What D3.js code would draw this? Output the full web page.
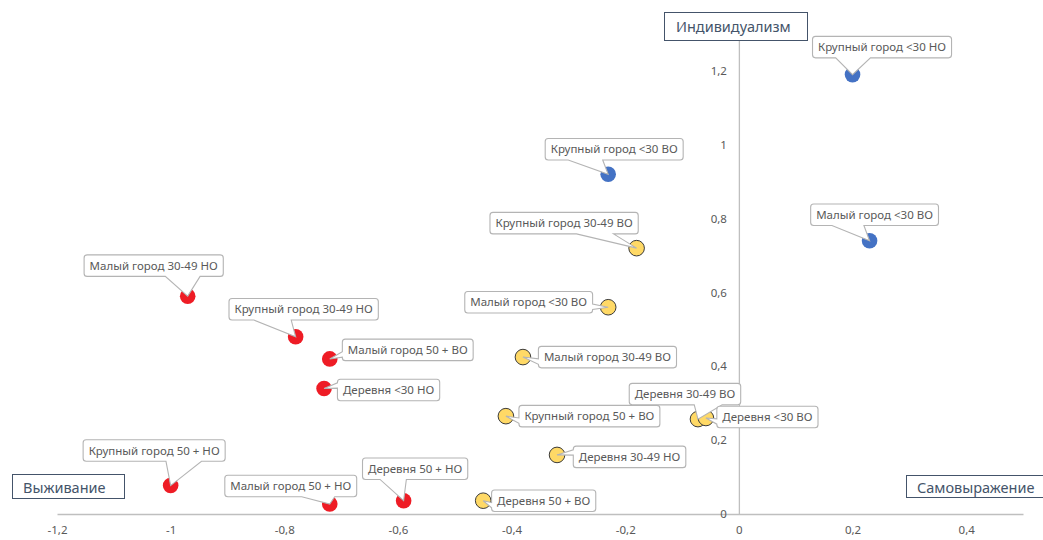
<!DOCTYPE html>
<html><head><meta charset="utf-8">
<script src="https://cdn.jsdelivr.net/npm/d3@7"></script>
<style>
body{margin:0;background:#fff;}
svg{display:block;font-family:"Noto Sans",sans-serif;}
</style>
</head><body>
<svg id="chart" width="1043" height="540"></svg>
<script>
// ---- data ----
const blueNames = ["Крупный город <30 НО", "Крупный город <30 ВО", "Малый город <30 ВО"];
const blueX = [0.20, -0.23, 0.23];
const blueY = [1.19, 0.92, 0.74];

const yellowNames = ["Крупный город 30-49 ВО", "Малый город <30 ВО", "Малый город 30-49 ВО",
  "Крупный город 50 + ВО", "Деревня 30-49 ВО", "Деревня <30 ВО", "Деревня 30-49 НО", "Деревня 50 + ВО"];
const yellowX = [-0.18, -0.23, -0.38, -0.41, -0.072, -0.058, -0.32, -0.45];
const yellowY = [0.72, 0.56, 0.425, 0.265, 0.257, 0.26, 0.16, 0.036];

const redNames = ["Малый город 30-49 НО", "Крупный город 30-49 НО", "Малый город 50 + ВО",
  "Деревня <30 НО", "Крупный город 50 + НО", "Малый город 50 + НО", "Деревня 50 + НО"];
const redX = [-0.97, -0.78, -0.72, -0.73, -1.00, -0.72, -0.59];
const redY = [0.59, 0.48, 0.42, 0.34, 0.077, 0.027, 0.036];

const xTicks = [-1.2, -1, -0.8, -0.6, -0.4, -0.2, 0, 0.2, 0.4];
const yTicks = [0, 0.2, 0.4, 0.6, 0.8, 1, 1.2];
const axisTitleTop = "Индивидуализм";
const axisTitleLeft = "Выживание";
const axisTitleRight = "Самовыражение";

// ---- layout (label box centre offsets from the point, in px) ----
const blueLabelOffsets = [[29.5, -27.5], [6, -25], [5, -26]];
const yellowLabelOffsets = [[-72.5, -25], [-79.5, -5], [84.5, 0], [83.5, 0], [-13, -25], [61.5, -1], [72.5, 2], [60.5, 0]];
const redLabelOffsets = [[-34, -30.5], [8, -27.5], [78, -9], [64.5, 1.5], [-16.5, -35], [-39, -18], [11.5, -32]];

const series = [
  {names: blueNames, xs: blueX, ys: blueY, offs: blueLabelOffsets, fill: "#4472C4", stroke: "none"},
  {names: yellowNames, xs: yellowX, ys: yellowY, offs: yellowLabelOffsets, fill: "#FFD966", stroke: "#3a3a3a"},
  {names: redNames, xs: redX, ys: redY, offs: redLabelOffsets, fill: "#EE1C25", stroke: "none"}
];

const svg = d3.select("#chart");
const x = d3.scaleLinear().domain([-1.2, 0.5]).range([57, 1023]);
const y = d3.scaleLinear().domain([0, 1.3]).range([514, 34]);
const fmt = d => String(d).replace(".", ",");

const gray = "#595959";
const axisColor = "#bfbfbf";

// x axis
const xa = svg.append("g").attr("transform", `translate(0,${y(0)})`)
  .call(d3.axisBottom(x).tickValues(xTicks).tickFormat(fmt).tickSize(0).tickPadding(12));
xa.select(".domain").attr("stroke", axisColor).attr("stroke-width", 1.3);
xa.selectAll("text").attr("fill", gray).style("font-size", "11.5px").style("font-family", "'Noto Sans',sans-serif");

// y axis
const ya = svg.append("g").attr("transform", `translate(${x(0)},0)`)
  .call(d3.axisLeft(y).tickValues(yTicks).tickFormat(fmt).tickSize(0).tickPadding(12));
ya.select(".domain").attr("stroke", axisColor).attr("stroke-width", 1.3);
ya.selectAll("text").attr("fill", gray).style("font-size", "11.5px").style("font-family", "'Noto Sans',sans-serif");

// markers
series.forEach(s => {
  svg.append("g").selectAll("circle").data(s.xs.map((v, i) => [v, s.ys[i]])).join("circle")
    .attr("cx", d => x(d[0])).attr("cy", d => y(d[1])).attr("r", 7.8)
    .attr("fill", s.fill).attr("stroke", s.stroke).attr("stroke-width", 1);
});

// callout path
function calloutPath(cx, cy, w, h, tx, ty) {
  const x0 = cx - w / 2, y0 = cy - h / 2, x1 = cx + w / 2, y1 = cy + h / 2, r = 3;
  const dxn = (tx - cx) / w, dyn = (ty - cy) / h;
  const inside = Math.abs(dxn) <= 0.5 && Math.abs(dyn) <= 0.5;
  const horiz = Math.abs(dxn) > Math.abs(dyn);
  const ax = dxn < 0 ? [x0 + w / 6, x0 + 5 * w / 12] : [x0 + 7 * w / 12, x0 + 5 * w / 6];
  const by = dyn < 0 ? [y0 + h / 6, y0 + 5 * h / 12] : [y0 + 7 * h / 12, y0 + 5 * h / 6];
  let p = `M${x0 + r},${y0}`;
  if (!inside && !horiz && dyn < 0) p += `L${ax[0]},${y0}L${tx},${ty}L${ax[1]},${y0}`;
  p += `L${x1 - r},${y0}Q${x1},${y0} ${x1},${y0 + r}`;
  if (!inside && horiz && dxn > 0) p += `L${x1},${by[0]}L${tx},${ty}L${x1},${by[1]}`;
  p += `L${x1},${y1 - r}Q${x1},${y1} ${x1 - r},${y1}`;
  if (!inside && !horiz && dyn > 0) p += `L${ax[1]},${y1}L${tx},${ty}L${ax[0]},${y1}`;
  p += `L${x0 + r},${y1}Q${x0},${y1} ${x0},${y1 - r}`;
  if (!inside && horiz && dxn < 0) p += `L${x0},${by[1]}L${tx},${ty}L${x0},${by[0]}`;
  p += `L${x0},${y0 + r}Q${x0},${y0} ${x0 + r},${y0}Z`;
  return p;
}

// labels
const lg = svg.append("g");
series.forEach(s => {
  s.names.forEach((name, i) => {
    const px = x(s.xs[i]), py = y(s.ys[i]);
    const cx = px + s.offs[i][0], cy = py + s.offs[i][1];
    const g = lg.append("g");
    const path = g.append("path");
    const t = g.append("text").attr("x", cx).attr("y", cy).attr("dy", "0.35em")
      .attr("text-anchor", "middle").attr("fill", gray).style("font-size", "11.5px").text(name);
    const w = t.node().getComputedTextLength() + 11, h = 21.5;
    path.attr("d", calloutPath(cx, cy, w, h, px, py)).attr("fill", "#fff")
      .attr("stroke", "#b4b4b4").attr("stroke-width", 1.1);
  });
});

// axis title boxes
const titleColor = "#44546A";
function titleBox(x0, y0, w, h, tx, ty, text) {
  const g = svg.append("g");
  g.append("rect").attr("x", x0).attr("y", y0).attr("width", w).attr("height", h)
    .attr("fill", "#fff").attr("stroke", titleColor).attr("stroke-width", 1);
  g.append("text").attr("x", tx).attr("y", ty).attr("fill", titleColor)
    .style("font-size", "14.5px").text(text);
}
titleBox(664.5, 12.5, 143, 28, 676, 32, axisTitleTop);
titleBox(12.5, 474.5, 112, 24, 23, 493, axisTitleLeft);
titleBox(906.5, 475.5, 150, 22, 917, 493, axisTitleRight);
</script>
</body></html>
